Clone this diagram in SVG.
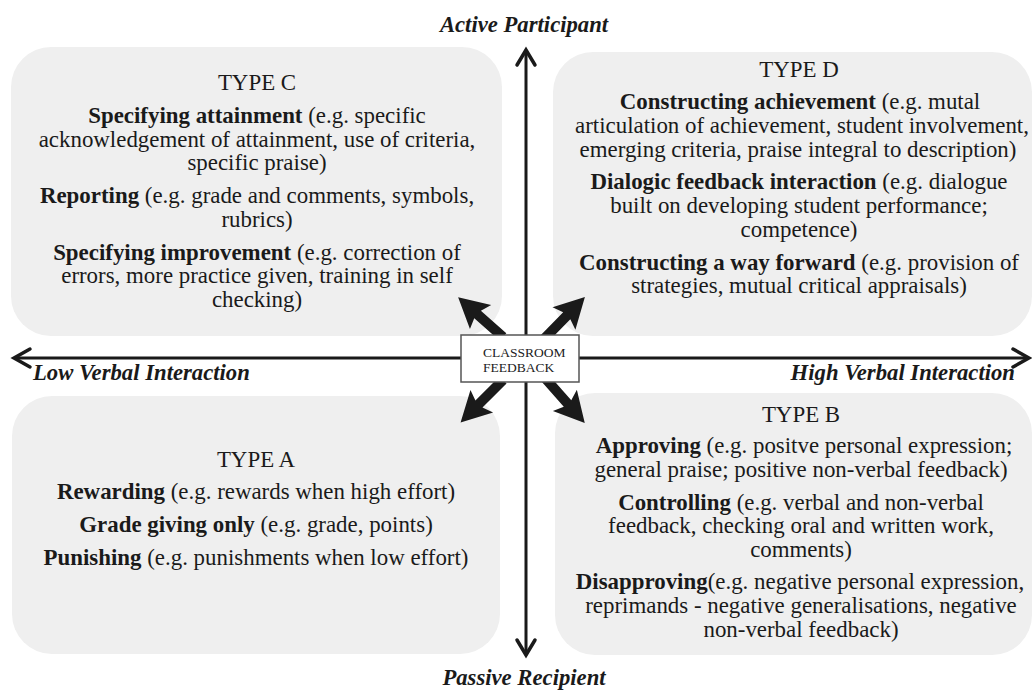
<svg xmlns="http://www.w3.org/2000/svg" width="1032" height="691" viewBox="0 0 1032 691">
<style>
.box{fill:#efefef;stroke:none}
.tx{font-size:22.9px;fill:#1a1a1a;text-anchor:middle}
.bd{font-weight:bold}
.ax{font-size:22.7px;font-weight:bold;font-style:italic;fill:#1a1a1a}
.axis{stroke:#1a1a1a;stroke-width:3;fill:none}
.chev{stroke:#1a1a1a;stroke-width:3.5;fill:none;stroke-linecap:round;stroke-linejoin:miter}
.fat{fill:#1a1a1a;stroke:none}
.ctr{font-size:13.5px;fill:#222}
</style>
<defs>
<path id="fatArrow" d="M0,-5 L34,-5 L30,-16 L60,0 L30,16 L34,5 L0,5 Z"/>
</defs>
<rect width="1032" height="691" fill="#ffffff"/>

<g id="typeC" font-family="'Liberation Serif', 'Times New Roman', serif">
<rect class="box" x="11" y="47" width="491" height="289" rx="40"/>
<text class="tx" font-family="'Liberation Serif', serif" x="257" y="90">TYPE C</text>
<text class="tx" font-family="'Liberation Serif', serif" x="257" y="123"><tspan class="bd">Specifying attainment</tspan> (e.g. specific</text>
<text class="tx" font-family="'Liberation Serif', serif" x="257" y="147">acknowledgement of attainment, use of criteria,</text>
<text class="tx" font-family="'Liberation Serif', serif" x="257" y="170">specific praise)</text>
<text class="tx" font-family="'Liberation Serif', serif" x="257" y="203"><tspan class="bd">Reporting</tspan> (e.g. grade and comments, symbols,</text>
<text class="tx" font-family="'Liberation Serif', serif" x="257" y="227">rubrics)</text>
<text class="tx" font-family="'Liberation Serif', serif" x="257" y="260"><tspan class="bd">Specifying improvement</tspan> (e.g. correction of</text>
<text class="tx" font-family="'Liberation Serif', serif" x="257" y="283">errors, more practice given, training in self</text>
<text class="tx" font-family="'Liberation Serif', serif" x="257" y="307">checking)</text>
</g>

<g id="typeD" font-family="'Liberation Serif', 'Times New Roman', serif">
<rect class="box" x="553" y="52" width="479" height="284" rx="40"/>
<text class="tx" font-family="'Liberation Serif', serif" x="799" y="77">TYPE D</text>
<text class="tx" font-family="'Liberation Serif', serif" x="800" y="109"><tspan class="bd">Constructing achievement</tspan> (e.g. mutal</text>
<text class="tx" font-family="'Liberation Serif', serif" x="802" y="133">articulation of achievement, student involvement,</text>
<text class="tx" font-family="'Liberation Serif', serif" x="798" y="157">emerging criteria, praise integral to description)</text>
<text class="tx" font-family="'Liberation Serif', serif" x="799" y="189"><tspan class="bd">Dialogic feedback interaction</tspan> (e.g. dialogue</text>
<text class="tx" font-family="'Liberation Serif', serif" x="799" y="213">built on developing student performance;</text>
<text class="tx" font-family="'Liberation Serif', serif" x="799" y="237">competence)</text>
<text class="tx" font-family="'Liberation Serif', serif" x="799" y="270"><tspan class="bd">Constructing a way forward</tspan> (e.g. provision of</text>
<text class="tx" font-family="'Liberation Serif', serif" x="799" y="293">strategies, mutual critical appraisals)</text>
</g>

<g id="typeA" font-family="'Liberation Serif', 'Times New Roman', serif">
<rect class="box" x="12" y="396" width="488" height="258" rx="40"/>
<text class="tx" font-family="'Liberation Serif', serif" x="256" y="467">TYPE A</text>
<text class="tx" font-family="'Liberation Serif', serif" x="256" y="499"><tspan class="bd">Rewarding</tspan> (e.g. rewards when high effort)</text>
<text class="tx" font-family="'Liberation Serif', serif" x="256" y="532"><tspan class="bd">Grade giving only</tspan> (e.g. grade, points)</text>
<text class="tx" font-family="'Liberation Serif', serif" x="256" y="565"><tspan class="bd">Punishing</tspan> (e.g. punishments when low effort)</text>
</g>

<g id="typeB" font-family="'Liberation Serif', 'Times New Roman', serif">
<rect class="box" x="555" y="393" width="477" height="262" rx="40"/>
<text class="tx" font-family="'Liberation Serif', serif" x="801" y="422">TYPE B</text>
<text class="tx" font-family="'Liberation Serif', serif" x="804" y="453"><tspan class="bd">Approving</tspan> (e.g. positve personal expression;</text>
<text class="tx" font-family="'Liberation Serif', serif" x="801" y="477">general praise; positive non-verbal feedback)</text>
<text class="tx" font-family="'Liberation Serif', serif" x="801" y="510"><tspan class="bd">Controlling</tspan> (e.g. verbal and non-verbal</text>
<text class="tx" font-family="'Liberation Serif', serif" x="801" y="533">feedback, checking oral and written work,</text>
<text class="tx" font-family="'Liberation Serif', serif" x="801" y="557">comments)</text>
<text class="tx" font-family="'Liberation Serif', serif" x="800" y="589"><tspan class="bd">Disapproving</tspan>(e.g. negative personal expression,</text>
<text class="tx" font-family="'Liberation Serif', serif" x="801" y="613">reprimands - negative generalisations, negative</text>
<text class="tx" font-family="'Liberation Serif', serif" x="801" y="637">non-verbal feedback)</text>
</g>

<g id="connectors">
<line class="axis" x1="526" y1="50" x2="526" y2="655"/>
<line class="axis" x1="14" y1="358" x2="1029" y2="358"/>
<polyline class="chev" points="517,65 526,50 535,65"/>
<polyline class="chev" points="517,640 526,655 535,640"/>
<polyline class="chev" points="30,349 14,358 30,367"/>
<polyline class="chev" points="1013,349 1029,358 1013,367"/>
<use href="#fatArrow" class="fat" transform="translate(503,337) rotate(-138.4)"/>
<use href="#fatArrow" class="fat" transform="translate(543,340) rotate(-45.7)"/>
<use href="#fatArrow" class="fat" transform="translate(545,378) rotate(48.5)"/>
<use href="#fatArrow" class="fat" transform="translate(503,380) rotate(135)"/>
</g>

<g id="axisLabels" font-family="'Liberation Serif', 'Times New Roman', serif">
<text class="ax" font-family="'Liberation Serif', serif" x="524" y="32" text-anchor="middle">Active Participant</text>
<text class="ax" font-family="'Liberation Serif', serif" x="524" y="685" text-anchor="middle">Passive Recipient</text>
<text class="ax" font-family="'Liberation Serif', serif" x="33" y="380">Low Verbal Interaction</text>
<text class="ax" font-family="'Liberation Serif', serif" x="1015" y="380" text-anchor="end">High Verbal Interaction</text>
</g>

<g id="classroomFeedback">
<rect x="461" y="335" width="118" height="47" fill="#ffffff" stroke="#555" stroke-width="1.5"/>
<text class="ctr" font-family="'Liberation Serif', serif" x="483" y="357">CLASSROOM</text>
<text class="ctr" font-family="'Liberation Serif', serif" x="483" y="372">FEEDBACK</text>
</g>
</svg>
